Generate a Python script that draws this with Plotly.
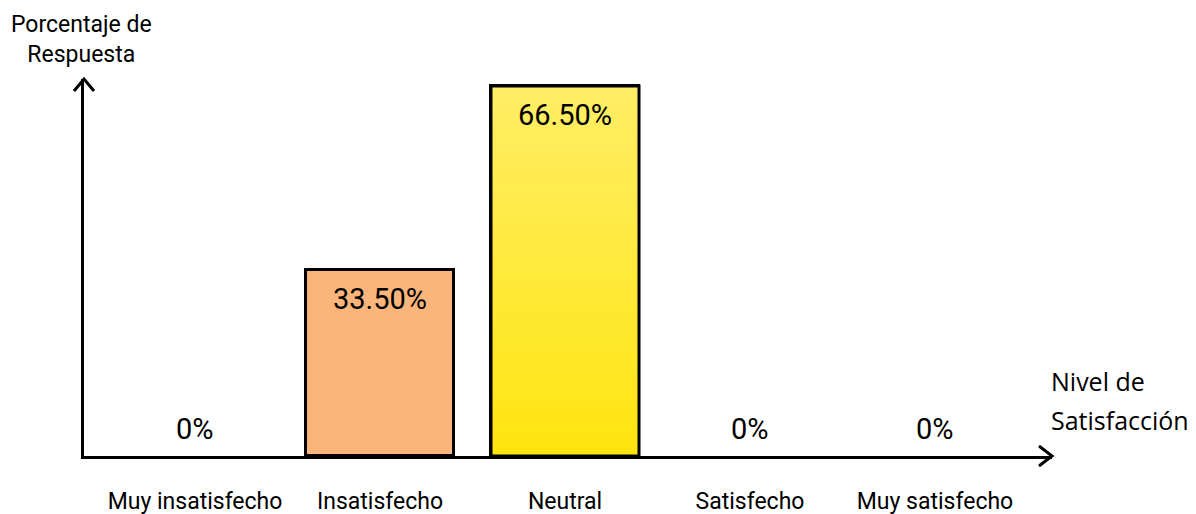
import plotly.graph_objects as go

# Survey results: share of answers per satisfaction level
categories = ["Muy insatisfecho", "Insatisfecho", "Neutral", "Satisfecho", "Muy satisfecho"]
percentages = [0.0, 33.5, 66.5, 0.0, 0.0]
bar_colors = ["#FBB57B", "#FBB57B", "#FFE82E", "#FBB57B", "#FBB57B"]
# categories whose bar gets a vertical gradient (bottom colour, top colour)
gradient_fills = {"Neutral": ("#FFE40F", "#FFEE66")}

y_title = "Porcentaje de<br>Respuesta"
x_title_lines = ["Nivel de", "Satisfacción"]

BAR_WIDTH = 0.8
PX_PER_CAT = 185.0
PLOT_W = 968
PLOT_H = 377
PX_PER_PCT = 5.564

x_idx = list(range(len(categories)))


def fmt(v):
    return "0%" if v == 0 else f"{v:.2f}%"


fig = go.Figure()
fig.add_trace(go.Bar(
    x=x_idx, y=percentages, width=BAR_WIDTH,
    marker=dict(color=bar_colors,
                line=dict(color="black", width=[3 if v > 0 else 0 for v in percentages])),
    hoverinfo="skip", showlegend=False,
))

# gradient-filled overlay for selected bars
for cat, (c_bottom, c_top) in gradient_fills.items():
    i = categories.index(cat)
    v = percentages[i]
    x0, x1 = i - BAR_WIDTH / 2, i + BAR_WIDTH / 2
    fig.add_trace(go.Scatter(
        x=[x0, x1, x1, x0, x0], y=[0, 0, v, v, 0],
        mode="lines", fill="toself",
        fillgradient=dict(type="vertical", colorscale=[[0, c_bottom], [1, c_top]]),
        line=dict(color="black", width=3),
        hoverinfo="skip", showlegend=False,
    ))

# value labels
for i, v in enumerate(percentages):
    fig.add_annotation(
        x=i, y=v, text=fmt(v), showarrow=False,
        xref="x", yref="y", yanchor="middle",
        yshift=-29 if v > 0 else 27,
        font=dict(family="Roboto", size=29, color="black"),
    )

# axis arrow heads (pixel-sized chevrons)
fig.add_shape(
    type="path", xref="paper", yref="paper", xsizemode="pixel", ysizemode="pixel",
    xanchor=1, yanchor=0, path="M -13 10 L 0 0 L -13 -10",
    line=dict(color="black", width=3),
)
fig.add_shape(
    type="path", xref="paper", yref="paper", xsizemode="pixel", ysizemode="pixel",
    xanchor=0, yanchor=1, path="M -10 -12 L 0 0 L 10 -12",
    line=dict(color="black", width=3),
)

# axis titles
fig.add_annotation(
    xref="paper", yref="paper", x=-3 / PLOT_W, y=1, yanchor="bottom", xanchor="center",
    yshift=9, text=y_title, showarrow=False, align="center",
    font=dict(family="Roboto", size=23, color="black"),
)
for k, line in enumerate(x_title_lines):
    fig.add_annotation(
        xref="paper", yref="y", x=1, y=0, xanchor="left", yanchor="middle",
        xshift=-3, yshift=75 - 39 * k, text=line, showarrow=False,
        font=dict(family="Open Sans", size=25, color="black"),
    )

x_lo = -0.6
fig.update_xaxes(
    range=[x_lo, x_lo + PLOT_W / PX_PER_CAT],
    tickvals=x_idx, ticktext=categories, ticks="",
    ticklabelstandoff=22,
    tickfont=dict(family="Roboto", size=23, color="black"),
    showgrid=False, zeroline=False,
    showline=True, linecolor="black", linewidth=3,
)
fig.update_yaxes(
    range=[0, PLOT_H / PX_PER_PCT],
    showticklabels=False, ticks="", showgrid=False, zeroline=False,
    showline=True, linecolor="black", linewidth=3,
)
fig.update_layout(
    width=1196, height=514,
    margin=dict(l=84, r=144, t=79, b=58, autoexpand=False),
    plot_bgcolor="white", paper_bgcolor="white",
    bargap=0,
)
fig.write_html("out.html")
